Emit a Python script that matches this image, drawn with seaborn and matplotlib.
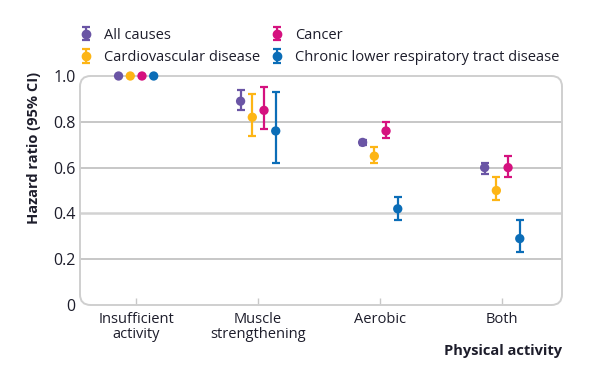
import numpy as np
import pandas as pd
import matplotlib
matplotlib.use("Agg")
import matplotlib.pyplot as plt
from matplotlib.patches import FancyBboxPatch
from matplotlib.legend_handler import HandlerErrorbar
import seaborn as sns

categories = ["Insufficient\nactivity", "Muscle\nstrengthening", "Aerobic", "Both"]
series = ["All causes", "Cardiovascular disease", "Cancer",
          "Chronic lower respiratory tract disease"]
colors = ["#6A55A5", "#FDB515", "#D5117F", "#0B6DB7"]

hr_all = [1.0, 0.89, 0.71, 0.60]
lo_all = [np.nan, 0.85, 0.70, 0.57]
hi_all = [np.nan, 0.94, 0.72, 0.62]

hr_cvd = [1.0, 0.82, 0.65, 0.50]
lo_cvd = [np.nan, 0.74, 0.62, 0.46]
hi_cvd = [np.nan, 0.92, 0.69, 0.56]

hr_can = [1.0, 0.85, 0.76, 0.60]
lo_can = [np.nan, 0.77, 0.73, 0.56]
hi_can = [np.nan, 0.95, 0.80, 0.65]

hr_clr = [1.0, 0.76, 0.42, 0.29]
lo_clr = [np.nan, 0.62, 0.37, 0.23]
hi_clr = [np.nan, 0.93, 0.47, 0.37]

yticks = [0, 0.2, 0.4, 0.6, 0.8, 1.0]
ytick_labels = ["0", "0.2", "0.4", "0.6", "0.8", "1.0"]

rows = []
for s, hr, lo, hi in zip(series, [hr_all, hr_cvd, hr_can, hr_clr],
                         [lo_all, lo_cvd, lo_can, lo_clr],
                         [hi_all, hi_cvd, hi_can, hi_clr]):
    for i, c in enumerate(categories):
        rows.append(dict(series=s, cat=c, idx=i, hr=hr[i], lo=lo[i], hi=hi[i]))
df = pd.DataFrame(rows)
step = 0.096
offsets = {s: (k - 1.5) * step for k, s in enumerate(series)}
df["x"] = df["idx"] + df["series"].map(offsets)

sns.set_theme(style="white")
plt.rcParams["font.family"] = ["Open Sans", "DejaVu Sans"]
txt = "#1d1d2b"

fig = plt.figure(figsize=(5.95, 3.69), dpi=100)
ax = fig.add_axes([80 / 595, 1 - 305 / 369, (562 - 80) / 595, (305 - 76) / 369])
ax.set_xlim(-0.46, 3.49)
ax.set_ylim(0, 1.0)

for y in [0.2, 0.6, 0.8]:
    ax.axhline(y, color="#b8b8b8", lw=1.1, zorder=0)
ax.axhline(0.4, color="#d2d2d2", lw=1.8, zorder=0)

frame = FancyBboxPatch((0, 0), 1, 1, boxstyle="round,pad=0,rounding_size=0.022",
                       transform=ax.transAxes, fill=False, ec="#cfcfcf", lw=1.4,
                       clip_on=False, zorder=1, mutation_aspect=482 / 229)
ax.add_patch(frame)
for sp in ax.spines.values():
    sp.set_visible(False)

handles = []
for s, col in zip(series, colors):
    d = df[(df.series == s) & df.lo.notna()]
    ax.errorbar(d.x, d.hr, yerr=[d.hr - d.lo, d.hi - d.hr], fmt="none",
                ecolor=col, elinewidth=1.6, capsize=3.2, capthick=1.6, zorder=3)
    h = ax.errorbar([np.nan], [np.nan], yerr=[[0.1]], fmt="o", color=col,
                    ms=6, elinewidth=1.6, capsize=3, capthick=1.6, label=s)
    handles.append(h)

sns.scatterplot(data=df, x="x", y="hr", hue="series", palette=colors,
                hue_order=series, s=45, edgecolor="none", legend=False,
                ax=ax, zorder=4, clip_on=False)

ax.set_xticks(range(len(categories)))
ax.set_xticklabels(categories, fontsize=10.5, color=txt, linespacing=1.0)
ax.tick_params(axis="x", direction="in", length=5, width=1, color="#c8c8c8",
               pad=5, bottom=True)
ax.set_yticks(yticks)
ax.set_yticklabels(ytick_labels, fontsize=11.5, color=txt)
ax.tick_params(axis="y", length=0, pad=3)
ax.set_xlabel("")
ax.set_ylabel("Hazard ratio (95% CI)", fontsize=10.5, fontweight="bold", color=txt)
ax.yaxis.set_label_coords((41 - 80) / 482, (305 - 148) / 229)
fig.text(562 / 595, 1 - 351 / 369, "Physical activity", ha="right", va="center",
         fontsize=10.5, fontweight="bold", color=txt)

leg = fig.legend(handles=handles, labels=series, ncol=2, loc="upper left",
                 bbox_to_anchor=(73 / 595, 1 - 22 / 369), frameon=False,
                 fontsize=10.5, handlelength=1.0, handletextpad=0.75,
                 columnspacing=0.65, labelspacing=0.5, borderaxespad=0,
                 handler_map={type(handles[0]): HandlerErrorbar(xerr_size=0.3,
                                                                yerr_size=0.45)})
for t in leg.get_texts():
    t.set_color(txt)

fig.savefig("out.png", dpi=100)
